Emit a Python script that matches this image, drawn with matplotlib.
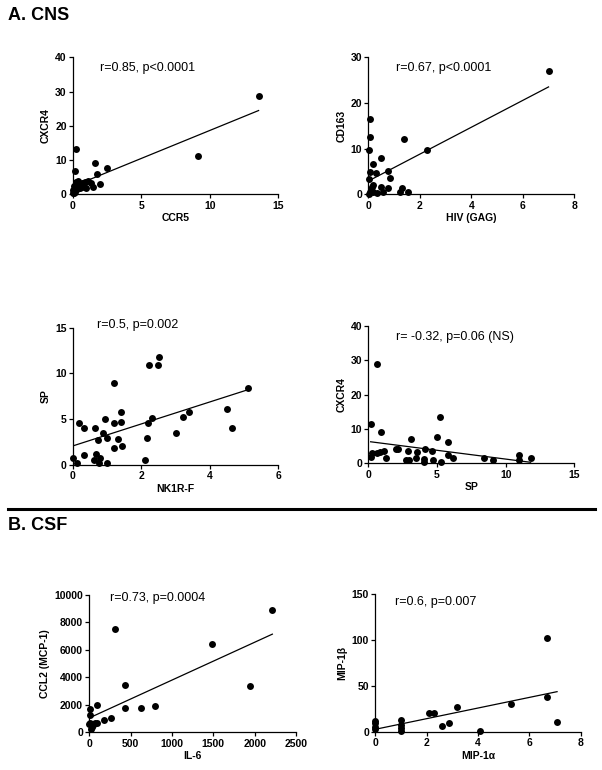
import numpy as np
import matplotlib
matplotlib.use("Agg")
import matplotlib.pyplot as plt

plt.rcParams['font.family'] = ['Liberation Sans', 'DejaVu Sans']

# ---------------- data ----------------
# A. CNS
ccr5 = [13.56, 9.15, 0.22, 0.15, 1.6, 2.5, 1.73, 2.0, 0.22, 0.39, 0.63, 0.88, 1.12, 1.29,
        0.80, 0.51, 0.27, 0.02, 0.15, 0.0, 1.48, 0.97, 0.45, 0.05, 0.3, 0.7, 0.1]
cxcr4_a = [28.7, 11.2, 13.2, 6.9, 9.0, 7.6, 5.9, 2.9, 3.7, 3.9, 3.4, 3.7, 3.9, 3.2,
           2.2, 1.9, 2.2, 1.3, 0.8, 0.3, 2.2, 1.75, 3.0, 0.5, 1.5, 2.8, 2.5]

hiv_gag = [7.0, 2.27, 1.4, 0.08, 0.06, 0.04, 0.48, 0.17, 0.05, 0.3, 0.77, 0.84, 0.03, 0.5,
           0.78, 1.3, 1.25, 1.55, 0.58, 0.13, 0.19, 0.06, 0.32, 0.1, 0.2, 0.02]
cd163 = [27.0, 9.8, 12.1, 16.4, 12.6, 9.7, 8.0, 6.7, 4.9, 4.7, 5.1, 3.5, 3.4, 1.5,
         1.4, 1.3, 0.6, 0.4, 0.4, 1.7, 0.4, 0.6, 0.2, 1.2, 2.0, 0.1]

nk1r = [5.12, 4.49, 4.64, 3.38, 3.23, 3.01, 2.52, 2.49, 2.22, 2.30, 2.19, 2.16, 2.11, 1.2,
        1.42, 1.41, 1.21, 0.95, 1.31, 1.45, 1.21, 1.0, 0.87, 0.74, 0.64, 0.18, 0.32, 0.32,
        0.02, 0.14, 0.68, 0.63, 0.8, 0.78, 0.99]
sp_a = [8.4, 6.1, 4.0, 5.8, 5.2, 3.5, 11.8, 10.9, 10.9, 5.1, 4.6, 3.0, 0.6, 9.0,
        5.8, 4.7, 4.6, 5.0, 2.8, 2.1, 1.9, 2.9, 3.5, 2.7, 4.0, 4.6, 4.0, 1.1,
        0.8, 0.2, 1.2, 0.6, 0.8, 0.25, 0.2]

sp_b = [0.66, 0.17, 0.9, 3.1, 5.22, 5.0, 5.78, 0.24, 0.19, 0.66, 0.85, 1.14, 1.26, 1.99,
        2.18, 2.86, 2.74, 2.94, 3.52, 3.47, 4.13, 4.05, 4.05, 4.64, 4.73, 5.32, 5.83,
        6.19, 8.45, 9.05, 11.0, 11.0, 11.82]
cxcr4_b = [28.9, 11.5, 9.2, 7.2, 13.5, 7.8, 6.1, 2.9, 1.75, 2.9, 3.2, 3.6, 1.65, 4.2,
           4.2, 3.5, 0.9, 0.9, 3.2, 1.5, 4.2, 1.2, 0.3, 3.7, 1.0, 0.3, 2.3,
           1.5, 1.5, 0.9, 2.5, 1.0, 1.5]

# B. CSF
il6 = [2214, 1490, 1940, 313, 435, 435, 626, 789, 94, 264, 179, 8, 8, 8, 28, 16, 69, 89, 49, 0]
ccl2 = [8930, 6430, 3350, 7550, 3450, 1750, 1800, 1940, 1990, 1070, 900, 1670, 1260, 700,
        410, 220, 700, 650, 530, 600]

mip1a = [6.69, 6.69, 7.08, 5.27, 3.18, 2.08, 2.3, 2.88, 2.58, 4.08, 1.0, 1.0, 1.0, 1.0, 0, 0, 0, 0]
mip1b = [102, 37.9, 10.6, 30.2, 26.9, 20.4, 20.4, 9.1, 5.8, 1.1, 12.7, 7.3, 3.6, 1.1,
         12.0, 9.1, 5.5, 3.3]

panels = [
    dict(x=ccr5, y=cxcr4_a, xlabel="CCR5", ylabel="CXCR4", xlim=15, xstep=5, ylim=40, ystep=10,
         txt="r=0.85, p<0.0001", rect=[73, 57.3, 278.3, 194.3], tpos=(0.13, 0.924)),
    dict(x=hiv_gag, y=cd163, xlabel="HIV (GAG)", ylabel="CD163", xlim=8, xstep=2, ylim=30, ystep=10,
         txt="r=0.67, p<0.0001", rect=[368.3, 57.3, 574.3, 194.3], tpos=(0.133, 0.924)),
    dict(x=nk1r, y=sp_a, xlabel="NK1R-F", ylabel="SP", xlim=6, xstep=2, ylim=15, ystep=5,
         txt="r=0.5, p=0.002", rect=[72.7, 327.7, 278.3, 465.0], tpos=(0.117, 1.02)),
    dict(x=sp_b, y=cxcr4_b, xlabel="SP", ylabel="CXCR4", xlim=15, xstep=5, ylim=40, ystep=10,
         txt="r= -0.32, p=0.06 (NS)", rect=[368.3, 326.0, 574.3, 463.3], tpos=(0.134, 0.922)),
    dict(x=il6, y=ccl2, xlabel="IL-6", ylabel="CCL2 (MCP-1)", xlim=2500, xstep=500, ylim=10000, ystep=2000,
         txt="r=0.73, p=0.0004", rect=[89.3, 595.0, 296.0, 732.3], tpos=(0.10, 0.976)),
    dict(x=mip1a, y=mip1b, xlabel="MIP-1\u03b1", ylabel="MIP-1\u03b2", xlim=8, xstep=2, ylim=150, ystep=50,
         txt="r=0.6, p=0.007", rect=[375.3, 594.3, 580.7, 731.7], tpos=(0.096, 0.947)),
]

W, H = 602, 770
fig = plt.figure(figsize=(W / 100, H / 100), dpi=100)

for p in panels:
    x0, y0, x1, y1 = p["rect"]
    ax = fig.add_axes([x0 / W, 1 - y1 / H, (x1 - x0) / W, (y1 - y0) / H])
    xs = np.asarray(p["x"], float)
    ys = np.asarray(p["y"], float)
    ax.scatter(xs, ys, s=25, color="black", zorder=3, clip_on=False, linewidths=0)
    m, b = np.polyfit(xs, ys, 1)
    xx = np.array([xs.min(), xs.max()])
    ax.plot(xx, m * xx + b, color="black", lw=0.9, zorder=2)
    ax.set_xlim(0, p["xlim"])
    ax.set_ylim(0, p["ylim"])
    ax.set_xticks(np.arange(0, p["xlim"] + p["xstep"] / 2, p["xstep"]))
    ax.set_yticks(np.arange(0, p["ylim"] + p["ystep"] / 2, p["ystep"]))
    for s in ["top", "right"]:
        ax.spines[s].set_visible(False)
    for s in ["left", "bottom"]:
        ax.spines[s].set_linewidth(0.9)
    ax.tick_params(direction="out", length=3, width=0.9, labelsize=7.5, pad=1.5)
    for lab in ax.get_xticklabels() + ax.get_yticklabels():
        lab.set_fontweight("bold")
    ax.set_xlabel(p["xlabel"], fontsize=7.5, fontweight="bold", labelpad=2)
    ax.set_ylabel(p["ylabel"], fontsize=7.5, fontweight="bold", labelpad=3)
    ax.text(p["tpos"][0], p["tpos"][1], p["txt"], transform=ax.transAxes, fontsize=9,
            ha="left", va="center")

fig.text(8 / W, 1 - 15 / H, "A. CNS", fontsize=13, fontweight="bold", ha="left", va="center")
fig.text(8 / W, 1 - 525 / H, "B. CSF", fontsize=13, fontweight="bold", ha="left", va="center")
fig.add_artist(plt.Line2D([8 / W, 595 / W], [1 - 509 / H, 1 - 509 / H], color="black", lw=2.2))

fig.savefig("out.png", dpi=100, facecolor="white")
